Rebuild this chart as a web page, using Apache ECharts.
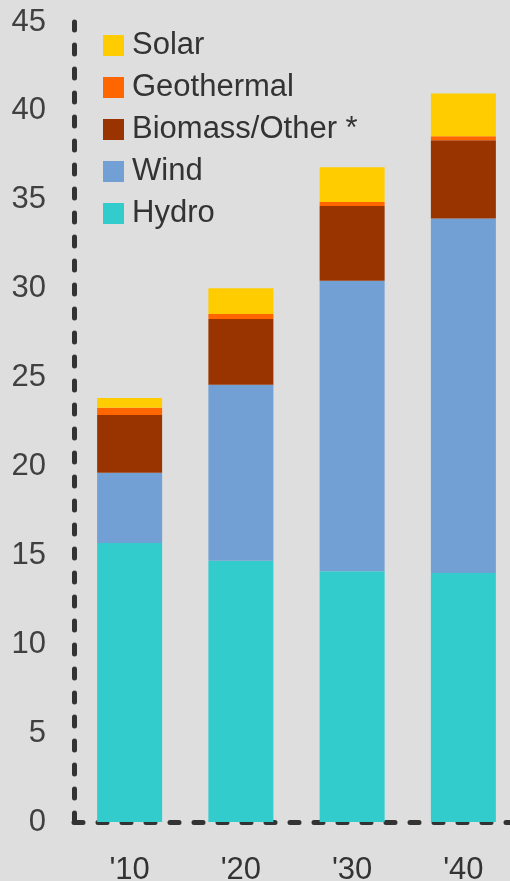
<!DOCTYPE html>
<html>
<head>
<meta charset="utf-8">
<script src="https://cdn.jsdelivr.net/npm/echarts@6/dist/echarts.min.js"></script>
<style>
  html, body { margin: 0; padding: 0; background: #dedede; }
  #chart { width: 510px; height: 881px; }
</style>
</head>
<body>
<div id="chart"></div>
<script>
  // categories (years) and stacked values
  var years = ["'10", "'20", "'30", "'40"];
  var hydro = [15.7, 14.7, 14.1, 14.0];
  var wind = [3.95, 9.9, 16.35, 19.95];
  var biomass = [3.25, 3.7, 4.2, 4.4];
  var geothermal = [0.4, 0.28, 0.23, 0.23];
  var solar = [0.55, 1.45, 1.95, 2.4];
  var legendOrder = ['Solar', 'Geothermal', 'Biomass/Other *', 'Wind', 'Hydro'];

  var font = '"Liberation Sans", Arial, sans-serif';
  var myChart = echarts.init(document.getElementById('chart'));

  function bar(name, data, color) {
    return {
      name: name,
      type: 'bar',
      stack: 'total',
      barWidth: 65,
      data: data,
      itemStyle: { color: color },
      emphasis: { disabled: true }
    };
  }

  myChart.setOption({
    backgroundColor: '#dedede',
    animation: false,
    // plot runs a bit past the right edge, like the original
    grid: { left: 74, width: 445, top: 22, bottom: 59, outerBoundsMode: 'none' },
    legend: {
      orient: 'vertical',
      left: 103,
      top: 30,
      padding: 0,
      itemWidth: 21,
      itemHeight: 21,
      itemGap: 11,
      icon: 'rect',
      data: legendOrder,
      textStyle: { fontSize: 31, color: '#333', fontFamily: font, padding: [0, 0, 0, 3] }
    },
    xAxis: {
      type: 'category',
      data: years,
      axisTick: { show: false },
      axisLine: { lineStyle: { color: '#333', width: 5, type: [9, 15] } },
      axisLabel: { fontSize: 31, color: '#333', fontFamily: font, margin: 33 }
    },
    yAxis: {
      type: 'value',
      min: 0,
      max: 45,
      interval: 5,
      splitLine: { show: false },
      axisTick: { show: false },
      axisLine: { show: true, lineStyle: { color: '#333', width: 5, type: [9, 15] } },
      axisLabel: { fontSize: 31, color: '#404040', fontFamily: font, margin: 28 }
    },
    series: [
      bar('Hydro', hydro, '#33cccc'),
      bar('Wind', wind, '#729fd4'),
      bar('Biomass/Other *', biomass, '#993300'),
      bar('Geothermal', geothermal, '#ff6600'),
      bar('Solar', solar, '#ffcc00')
    ]
  });
</script>
</body>
</html>
